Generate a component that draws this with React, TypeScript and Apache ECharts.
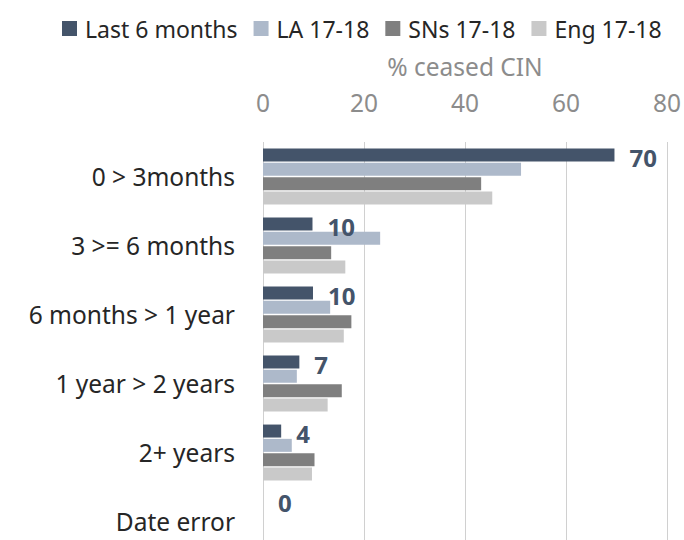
import React, { useEffect, useRef } from "react";
import * as echarts from "echarts";

const categories = ["0 > 3months", "3 >= 6 months", "6 months > 1 year", "1 year > 2 years", "2+ years", "Date error"];
const seriesNames = ["Last 6 months", "LA 17-18", "SNs 17-18", "Eng 17-18"];
const last6 = [69.6, 9.8, 9.9, 7.2, 3.6, 0];
const la = [51.1, 23.2, 13.3, 6.7, 5.7, 0];
const sns = [43.2, 13.5, 17.5, 15.6, 10.2, 0];
const eng = [45.4, 16.3, 16.0, 12.8, 9.7, 0];
const xTicks = [0, 20, 40, 60, 80];
const colors = ["#44546A", "#ADB9CA", "#7F7F7F", "#C9C9C9"];

const FONT = "'Noto Sans', 'Open Sans', sans-serif";

export default function App() {
  const ref = useRef<HTMLDivElement>(null);
  useEffect(() => {
    if (!ref.current) return;
    const chart = echarts.init(ref.current, undefined, { renderer: "svg" });
    const data = [last6, la, sns, eng];
    chart.setOption({
      animation: false,
      textStyle: { fontFamily: FONT },
      legend: {
        data: seriesNames,
        left: 57,
        top: 12,
        itemWidth: 15,
        itemHeight: 15,
        itemGap: 16,
        icon: "rect",
        textStyle: { fontSize: 23, color: "#262626", fontFamily: FONT, padding: [0, 0, 0, 3] },
      },
      grid: { left: 263, right: 12, top: 142, bottom: 0, containLabel: false },
      xAxis: {
        type: "value",
        position: "top",
        min: xTicks[0],
        max: xTicks[xTicks.length - 1],
        interval: 20,
        name: "% ceased CIN",
        nameLocation: "middle",
        nameGap: 63,
        nameTextStyle: { fontSize: 24.5, color: "#8C8C8C", fontFamily: FONT },
        axisLine: { show: false },
        axisTick: { show: false },
        axisLabel: { fontSize: 24.5, color: "#8C8C8C", margin: 27, fontFamily: FONT },
        splitLine: { show: true, lineStyle: { color: "#D0D0D0", width: 1 } },
      },
      yAxis: {
        type: "category",
        data: categories,
        inverse: true,
        axisLine: { show: false },
        axisTick: { show: false },
        axisLabel: { fontSize: 24.5, color: "#262626", margin: 28, fontFamily: FONT },
      },
      series: seriesNames.map((name, i) => ({
        name,
        type: "bar",
        data: data[i],
        barWidth: 13,
        barGap: "10%",
        itemStyle: { color: colors[i] },
        label:
          i === 0
            ? {
                show: true,
                position: "right",
                distance: 15,
                offset: [0, 2],
                fontSize: 24,
                fontWeight: "bold",
                color: "#44546A",
                fontFamily: FONT,
                formatter: (p: any) => String(Math.round(p.value)),
              }
            : { show: false },
      })),
    });
    return () => chart.dispose();
  }, []);
  return (
    <div
      style={{ position: "absolute", left: 0, top: 0, width: 684, height: 540, overflow: "hidden", background: "#fff" }}
    >
      <div ref={ref} style={{ width: 684, height: 556 }} />
    </div>
  );
}
